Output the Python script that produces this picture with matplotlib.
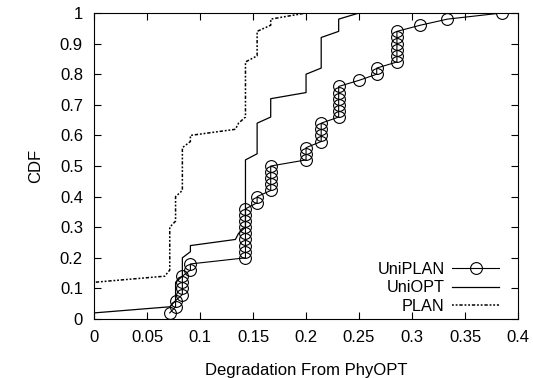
import numpy as np
import matplotlib as mpl
mpl.use('Agg')
import matplotlib.pyplot as plt

plt.rcParams['font.family'] = ['Liberation Sans', 'DejaVu Sans']

# CDF samples (value, how many runs hit that value)
uniplan_vals = [1/14, 1/13, 1/12, 1/11, 1/7, 2/13, 1/6, 1/5, 3/14, 3/13, 1/4, 4/15, 2/7, 4/13, 1/3, 5/13]
uniplan_cnt = [1, 2, 4, 2, 9, 2, 5, 3, 4, 6, 1, 2, 6, 1, 1, 1]

uniopt_vals = [0.0, 1/14, 1/13, 1/12, 1/11, 2/15, 3/22, 1/7, 2/13, 1/6, 1/5, 3/14, 3/13, 1/4]
uniopt_cnt = [1, 1, 4, 4, 2, 1, 1, 12, 6, 4, 4, 6, 3, 1]

plan_vals = [0.0, 1/15, 1/14, 1/13, 1/12, 1/11, 2/15, 3/22, 1/7, 2/13, 1/6, 1/5]
plan_cnt = [6, 1, 8, 5, 8, 2, 1, 1, 10, 5, 2, 1]


def cdf(vals, cnt):
    x = np.repeat(vals, cnt)
    y = np.arange(1, len(x) + 1) / len(x)
    return x, y


fig = plt.figure(figsize=(5.33, 3.78), dpi=100)
ax = fig.add_axes([0.1764, 0.156, 0.7956, 0.8096])

x, y = cdf(uniplan_vals, uniplan_cnt)
ax.plot(x, y, '-o', color='black', lw=0.8, markersize=8.5,
        markerfacecolor='none', markeredgewidth=0.8, label='UniPLAN')
x, y = cdf(uniopt_vals, uniopt_cnt)
ax.plot(x, y, '-', color='black', lw=0.9, label='UniOPT')
x, y = cdf(plan_vals, plan_cnt)
ax.plot(x, y, color='black', lw=1.1, dashes=(1.2, 1.2, 1.2, 1.2, 2.2, 1.2), label='PLAN')

ax.set_xlim(0, 0.4)
ax.set_ylim(0, 1)
ax.set_xticks(np.arange(0, 0.401, 0.05))
ax.set_xticklabels(['0', '0.05', '0.1', '0.15', '0.2', '0.25', '0.3', '0.35', '0.4'])
ax.set_yticks(np.arange(0, 1.01, 0.1))
ax.set_yticklabels(['0', '0.1', '0.2', '0.3', '0.4', '0.5', '0.6', '0.7', '0.8', '0.9', '1'])
ax.tick_params(direction='in', top=True, right=True, length=5, labelsize=12, pad=8)

ax.set_xlabel('Degradation From PhyOPT', fontsize=12, labelpad=13)
ax.set_ylabel('CDF', fontsize=12, labelpad=12)

ax.legend(loc='lower right', frameon=False, markerfirst=False, handlelength=2.9,
          fontsize=11.7, labelspacing=0.22, handletextpad=0.45, borderaxespad=0.0,
          bbox_to_anchor=(0.971, -0.005))

fig.savefig('out.png', dpi=100)
